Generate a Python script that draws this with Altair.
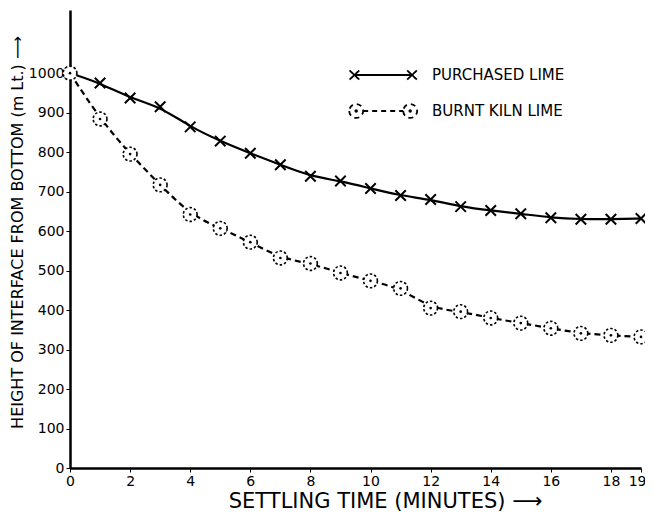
import altair as alt
import pandas as pd

time = list(range(20))
purchased = [1000, 975, 937, 915, 864, 828, 797, 768, 739, 727, 708, 690, 680, 662, 652, 644, 634, 630, 630, 632]
burnt = [1000, 884, 795, 717, 642, 607, 572, 532, 518, 494, 474, 455, 405, 396, 380, 367, 354, 341, 336, 332]
series = ["PURCHASED LIME", "BURNT KILN LIME"]
x_ticks = [0, 2, 4, 6, 8, 10, 12, 14, 16, 18, 19]
y_ticks = [0, 100, 200, 300, 400, 500, 600, 700, 800, 900, 1000]

df = pd.DataFrame({
    "t": time + time,
    "h": purchased + burnt,
    "s": [series[0]] * len(time) + [series[1]] * len(time),
})

FONT = "DejaVu Sans"

# legend symbol paths (unit = half symbol size)
def circ(cx, r):
    return f"M{cx - r},0A{r},{r} 0 1,0 {cx + r},0A{r},{r} 0 1,0 {cx - r},0Z"

leg_purchased = ("M-0.95,-0.38L-0.15,0.38M-0.95,0.38L-0.15,-0.38"
                 "M-0.55,0L4.25,0"
                 "M3.85,-0.38L4.65,0.38M3.85,0.38L4.65,-0.38")
leg_burnt = (circ(-0.4, 0.58) + circ(-0.4, 0.07) +
             "M0.18,0L3.52,0" + circ(4.1, 0.58) + circ(4.1, 0.07))

x = alt.X("t:Q", scale=alt.Scale(domain=[0, 19], nice=False, zero=False),
          axis=alt.Axis(values=x_ticks, title="SETTLING TIME (MINUTES) ⟶",
                        grid=False, tickSize=4, labelPadding=2,
                        labelFont=FONT, titleFont=FONT,
                        labelFontSize=14, titleFontSize=21, titleFontWeight="normal",
                        titlePadding=2, titleX=315, labelOverlap=False,
                        labelAlign=alt.condition("datum.value == 19", alt.value("right"), alt.value("center")),
                        labelOffset=alt.condition("datum.value == 19", alt.value(5), alt.value(0)),
                        domainWidth=2.5, domainColor="black", tickColor="black",
                        labelColor="black", titleColor="black"))
y = alt.Y("h:Q", scale=alt.Scale(domain=[0, 1160], nice=False),
          axis=alt.Axis(values=y_ticks, format="d",
                        title="HEIGHT OF INTERFACE FROM BOTTOM (m Lt.) ⟶",
                        grid=False, tickSize=4, labelPadding=2,
                        labelFont=FONT, titleFont=FONT,
                        labelFontSize=14, titleFontSize=16, titleFontWeight="normal",
                        titlePadding=3, titleY=222,
                        domainWidth=2.5, domainColor="black", tickColor="black",
                        labelColor="black", titleColor="black"))

line_p = alt.Chart(df).transform_filter(alt.datum.s == series[0]).mark_line(
    interpolate="basis", color="black", strokeWidth=2.2).encode(x=x, y=y)
line_b = alt.Chart(df).transform_filter(alt.datum.s == series[1]).mark_line(
    interpolate="basis", color="black", strokeWidth=2.2, strokeDash=[6, 4]).encode(x=x, y=y)

pts_p = alt.Chart(df).transform_filter(alt.datum.s == series[0]).mark_point(
    shape="M-1,-1L1,1M-1,1L1,-1", size=110, filled=False, color="black", strokeWidth=2, opacity=1
).encode(x=x, y=y)

pts_b = alt.Chart(df).transform_filter(alt.datum.s == series[1]).mark_point(
    shape="circle", size=190, filled=True, fill="white", stroke="black", strokeWidth=1.6,
    strokeDash=[2.5, 2], opacity=1
).encode(x=x, y=y)

dots_b = alt.Chart(df).transform_filter(alt.datum.s == series[1]).mark_point(
    shape="circle", size=7, filled=True, color="black", opacity=1
).encode(x=x, y=y)

legend = alt.Legend(orient="none", legendX=278, legendY=52, title=None,
                    symbolSize=576, symbolStrokeWidth=1.8, symbolStrokeColor="black",
                    symbolFillColor="transparent", symbolOpacity=1,
                    labelOffset=58, rowPadding=14, padding=0,
                    labelFont=FONT, labelFontSize=15, labelColor="black", labelLimit=300)

leg_layer = alt.Chart(df).mark_point(filled=False, color="black", opacity=0).encode(
    x=x, y=y,
    shape=alt.Shape("s:N", scale=alt.Scale(domain=series, range=[leg_purchased, leg_burnt]),
                    legend=legend, sort=series),
    strokeDash=alt.StrokeDash("s:N", scale=alt.Scale(domain=series, range=[[1, 0], [5, 4]]),
                              legend=legend, sort=series),
)

chart = alt.layer(line_p, line_b, pts_p, pts_b, dots_b, leg_layer).properties(
    width=571, height=458,
    autosize=alt.AutoSizeParams(type="none"),
    padding={"left": 62, "top": 2, "right": 4, "bottom": 60},
).configure(
    background="white",
    view=alt.ViewConfig(stroke="transparent", strokeWidth=0),
)

chart.save("out.html", embed_options={"renderer": "svg", "actions": False})
